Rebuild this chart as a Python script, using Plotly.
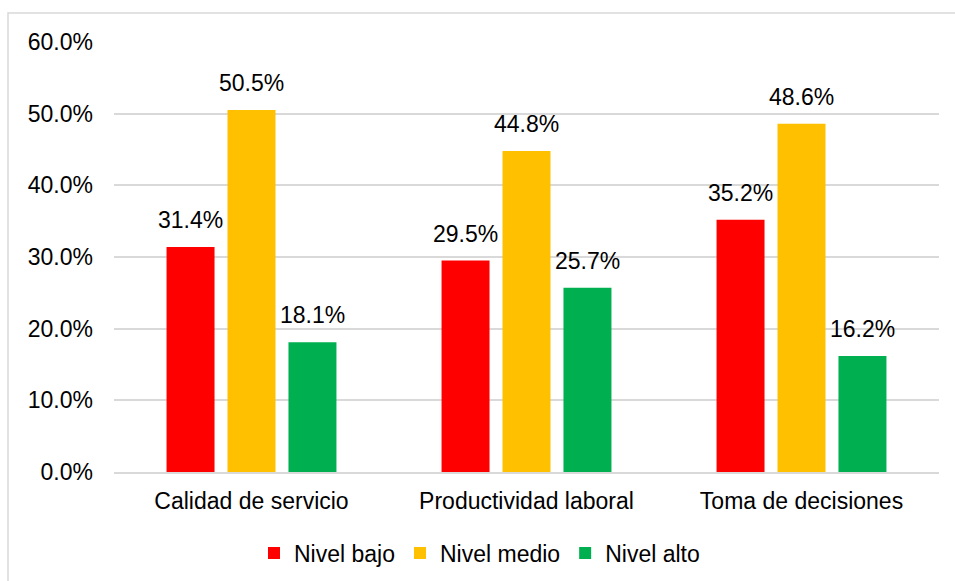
import plotly.graph_objects as go

categories = ["Calidad de servicio", "Productividad laboral", "Toma de decisiones"]
series_names = ["Nivel bajo", "Nivel medio", "Nivel alto"]
nivel_bajo = [0.314, 0.295, 0.352]
nivel_medio = [0.505, 0.448, 0.486]
nivel_alto = [0.181, 0.257, 0.162]
tick_vals = [0, 0.1, 0.2, 0.3, 0.4, 0.5, 0.6]

values = [nivel_bajo, nivel_medio, nivel_alto]
colors = ["#FF0000", "#FFC000", "#00B050"]
FONT = "Liberation Sans, Arial, sans-serif"
FS = 23

fig = go.Figure()
for name, vals, col in zip(series_names, values, colors):
    fig.add_trace(go.Bar(x=categories, y=vals, name=name, marker_color=col,
                         marker_line_width=0))

# data labels above each bar
offsets = [-61, 0, 61]
for vals, dx in zip(values, offsets):
    for cat, v in zip(categories, vals):
        fig.add_annotation(x=cat, y=v, text=f"{v*100:.1f}%", showarrow=False,
                           xshift=dx, yshift=27, yanchor="middle",
                           font=dict(family=FONT, size=FS, color="#000000"))

W, H = 955, 581
L, R, T, B = 114, 16, 42, 109
pw, ph = W - L - R, H - T - B
y_bottom_px = H - B


def py(p):
    return (y_bottom_px - p) / ph


def px(p):
    return (p - L) / pw


fig.add_shape(type="rect", xref="paper", yref="paper",
              x0=px(8), x1=px(W + 10), y0=py(H + 10), y1=py(13),
              line=dict(color="#D9D9D9", width=1.5), fillcolor="rgba(0,0,0,0)",
              layer="below")

fig.update_layout(
    width=W, height=H,
    margin=dict(l=L, r=R, t=T, b=B, autoexpand=False),
    paper_bgcolor="white", plot_bgcolor="white",
    barmode="group", bargap=0.335, bargroupgap=0.213,
    font=dict(family=FONT, size=FS, color="#000000"),
    showlegend=True,
    legend=dict(orientation="h", xref="container", x=254 / W, xanchor="left",
                yref="container", y=(H - 553) / H, yanchor="middle",
                font=dict(family=FONT, size=FS, color="#000000"),
                itemwidth=30, tracegroupgap=0),
    xaxis=dict(showgrid=False, showline=True, linecolor="#D9D9D9", linewidth=1.5,
               ticks="", ticklabelstandoff=8, tickfont=dict(size=FS),
               automargin=False),
    yaxis=dict(range=[0, 0.6], tickvals=tick_vals, tickformat=".1%",
               showgrid=True, gridcolor="#D9D9D9", gridwidth=1.5,
               zeroline=False, showline=False, ticks="",
               ticklabelstandoff=20, tickfont=dict(size=FS), automargin=False),
)

fig.write_html("out.html")
